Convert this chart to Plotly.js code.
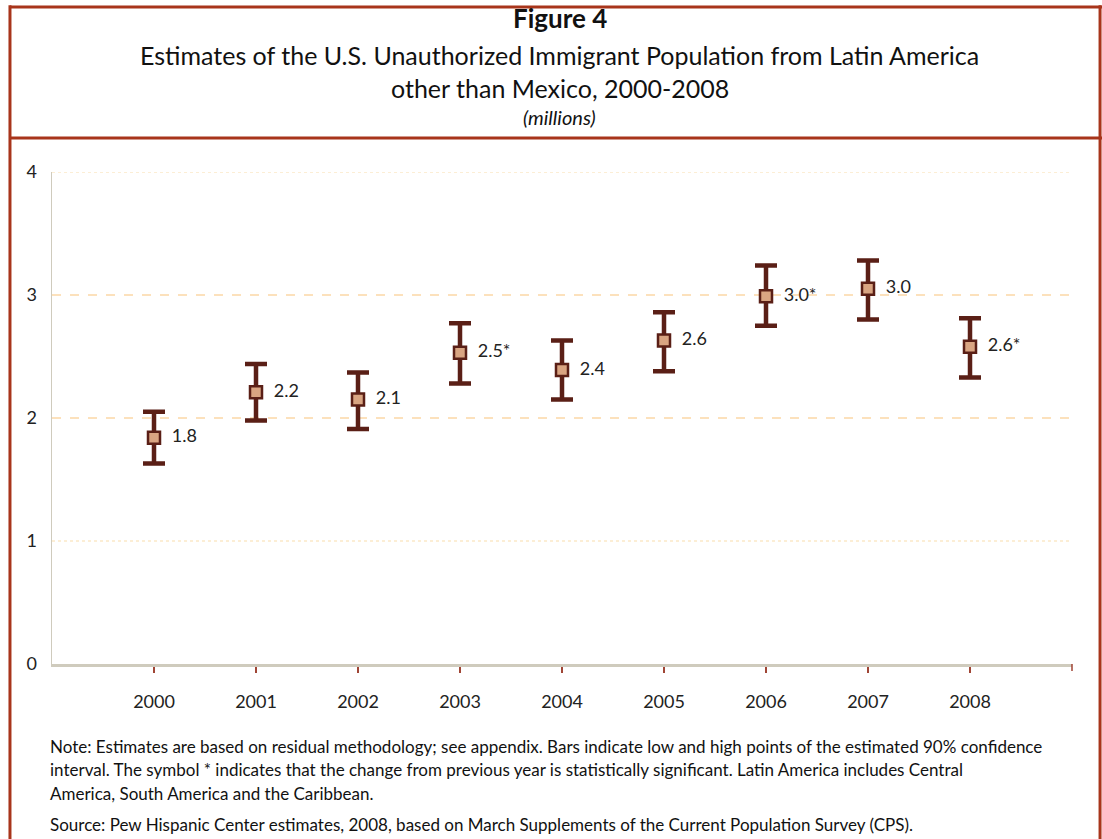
<!DOCTYPE html>
<html>
<head>
<meta charset="utf-8">
<script src="https://cdn.plot.ly/plotly-3.0.1.min.js"></script>
<style>html,body{margin:0;padding:0;background:#fff;}#chart{width:1102px;height:839px;}</style>
</head>
<body>
<div id="chart"></div>
<script>
const years = [2000, 2001, 2002, 2003, 2004, 2005, 2006, 2007, 2008];
const estimates = [1.84, 2.21, 2.15, 2.53, 2.39, 2.63, 2.99, 3.05, 2.58];
const lowCI = [1.63, 1.98, 1.91, 2.28, 2.15, 2.38, 2.75, 2.80, 2.33];
const highCI = [2.05, 2.44, 2.37, 2.77, 2.63, 2.86, 3.24, 3.28, 2.81];
const pointLabels = ['1.8', '2.2', '2.1', '2.5*', '2.4', '2.6', '3.0*', '3.0', '2.6*'];
const yTicks = [0, 1, 2, 3, 4];

const FONT = 'Lato, "Liberation Sans", sans-serif';
const BORDER = '#a8351b';
const DARK = '#5a1f16';

const trace = {
  x: years,
  y: estimates,
  type: 'scatter',
  mode: 'markers+text',
  text: pointLabels.map(t => '  ' + t),
  textposition: 'middle right',
  textfont: {family: FONT, size: 18, color: '#222'},
  marker: {symbol: 'square', size: 12, color: '#d9a582', line: {color: DARK, width: 2.5}},
  error_y: {
    type: 'data', symmetric: false,
    array: highCI.map((h, i) => h - estimates[i]),
    arrayminus: estimates.map((v, i) => v - lowCI[i]),
    thickness: 4.5, width: 11, color: DARK
  },
  hoverinfo: 'skip',
  cliponaxis: false
};

const gridShapes = yTicks.filter(v => v > 0).map(v => ({
  type: 'line', xref: 'paper', yref: 'y', x0: 0, x1: 1, y0: v, y1: v,
  line: {color: (v === 2 || v === 3) ? '#fcd7a6' : '#fbe9c8', width: 1.3, dash: (v === 2 || v === 3) ? 'dash' : 'dot'},
  layer: 'below'
}));

const frameShapes = [
  {type: 'line', xref: 'paper', yref: 'paper', x0: -0.0412, x1: 1.03, y0: 1.3354, y1: 1.3354, line: {color: BORDER, width: 3}},
  {type: 'line', xref: 'paper', yref: 'paper', x0: -0.0412, x1: 1.03, y0: 1.0691, y1: 1.0691, line: {color: BORDER, width: 3}},
  {type: 'line', xref: 'paper', yref: 'paper', x0: -0.0412, x1: -0.0412, y0: 1.339, y1: -0.36, line: {color: BORDER, width: 3}},
  {type: 'line', xref: 'paper', yref: 'paper', x0: 1.0275, x1: 1.0275, y0: 1.339, y1: -0.36, line: {color: BORDER, width: 3}},
  {type: 'line', xref: 'paper', yref: 'paper', x0: 1, x1: 1, y0: 0, y1: -0.014, line: {color: '#a04535', width: 1.5}}
];

const annotations = [
  {text: '<b>Figure 4</b>', x: 0.498, y: 1.313, size: 26},
  {text: 'Estimates of the U.S. Unauthorized Immigrant Population from Latin America', x: 0.498, y: 1.2378, size: 25},
  {text: 'other than Mexico, 2000-2008', x: 0.498, y: 1.1707, size: 25},
  {text: '<i>(millions)</i>', x: 0.498, y: 1.1118, size: 20}
].map(a => ({text: a.text, x: a.x, y: a.y, xref: 'paper', yref: 'paper', xanchor: 'center', yanchor: 'middle',
  showarrow: false, font: {family: FONT, size: a.size, color: '#111'}}));

const notes = [
  {text: 'Note: Estimates are based on residual methodology; see appendix. Bars indicate low and high points of the estimated 90% confidence', y: -0.1667},
  {text: 'interval. The symbol * indicates that the change from previous year is statistically significant. Latin America includes Central', y: -0.2154},
  {text: 'America, South America and the Caribbean.', y: -0.2622},
  {text: 'Source: Pew Hispanic Center estimates, 2008, based on March Supplements of the Current Population Survey (CPS).', y: -0.3272}
].map(n => ({text: n.text, x: -0.0039, y: n.y, xref: 'paper', yref: 'paper', xanchor: 'left', yanchor: 'middle',
  showarrow: false, font: {family: FONT, size: 17, color: '#111'}}));

const layout = {
  width: 1102, height: 839,
  margin: {l: 52, r: 30, t: 172, b: 175},
  paper_bgcolor: '#fff', plot_bgcolor: '#fff',
  showlegend: false,
  font: {family: FONT, color: '#222'},
  xaxis: {
    range: [1999, 2009], tickvals: years, ticktext: years.map(String),
    showgrid: false, zeroline: false,
    showline: true, linecolor: '#cfcbbd', linewidth: 2.5,
    ticks: 'outside', ticklen: 6, tickwidth: 1.5, tickcolor: '#a04535',
    tickfont: {family: FONT, size: 18, color: '#222'}, ticklabelstandoff: 14
  },
  yaxis: {
    range: [0, 4], tickvals: yTicks, ticktext: yTicks.map(String),
    showgrid: false, zeroline: false,
    showline: true, linecolor: '#cfcbbd', linewidth: 1.5,
    ticks: '', tickfont: {family: FONT, size: 18, color: '#222'}, ticklabelstandoff: 10
  },
  shapes: gridShapes.concat(frameShapes),
  annotations: annotations.concat(notes)
};

Plotly.newPlot('chart', [trace], layout, {displayModeBar: false, staticPlot: true});
</script>
</body>
</html>
